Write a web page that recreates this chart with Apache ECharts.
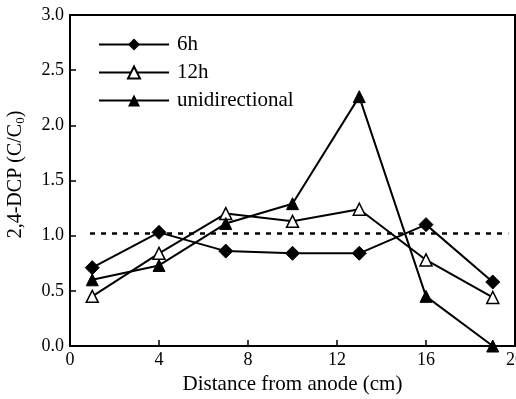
<!DOCTYPE html>
<html>
<head>
<meta charset="utf-8">
<script src="https://cdn.jsdelivr.net/npm/echarts@6/dist/echarts.min.js"></script>
<style>
html,body{margin:0;padding:0;background:#fff;}
#main{width:516px;height:399px;}
</style>
</head>
<body>
<div id="main"></div>
<script>
// distance from anode (cm)
var distance = [1, 4, 7, 10, 13, 16, 19];
var h6 = [0.71, 1.03, 0.86, 0.84, 0.84, 1.10, 0.58];
var h12 = [0.45, 0.84, 1.20, 1.13, 1.24, 0.78, 0.44];
var unidirectional = [0.60, 0.73, 1.11, 1.29, 2.26, 0.45, 0.00];
var refLevel = 1.02;
var refRange = [0.9, 19.7];
var xTicks = [0, 4, 8, 12, 16, 20];
var yTicks = [0, 0.5, 1.0, 1.5, 2.0, 2.5, 3.0];

function pairs(xs, ys){
	var out = [];
	for (var i = 0; i < xs.length; i++) out.push([xs[i], ys[i]]);
	return out;
}

var font = 'Liberation Serif';
var myChart = echarts.init(document.getElementById('main'));
var option = {
	animation: false,
	textStyle: {fontFamily: font, color: '#000'},
	grid: {
		left: 70, right: 1, top: 15, bottom: 53,
		outerBoundsMode: 'none', containLabel: false,
		show: true, borderColor: '#000', borderWidth: 2
	},
	legend: {
		data: ['6h', '12h', 'unidirectional'],
		orient: 'vertical',
		left: 93, top: 29,
		itemWidth: 70, itemHeight: 15, itemGap: 7,
		lineStyle: {width: 2},
		textStyle: {fontFamily: font, fontSize: 21, color: '#000', padding: [0, 0, 0, 3]}
	},
	xAxis: {
		type: 'value', min: 0, max: 20, interval: 4,
		name: 'Distance from anode (cm)',
		nameLocation: 'middle', nameGap: 22,
		nameTextStyle: {fontFamily: font, fontSize: 21, color: '#000'},
		axisLine: {lineStyle: {color: '#000', width: 2}},
		axisTick: {inside: true, length: 6, lineStyle: {color: '#000', width: 1.5}},
		axisLabel: {fontFamily: font, fontSize: 18, color: '#000', margin: 5,
			formatter: function(v){ return xTicks.indexOf(v) >= 0 ? v : ''; }},
		splitLine: {show: false}
	},
	yAxis: {
		type: 'value', min: 0, max: 3, interval: 0.5,
		name: '2,4-DCP (C/C{sub|0})',
		nameLocation: 'middle', nameGap: 43,
		nameTextStyle: {fontFamily: font, fontSize: 20, color: '#000', padding: [0, 0, 0, 12],
			rich: {sub: {fontFamily: font, fontSize: 13, color: '#000', verticalAlign: 'bottom', padding: [10, 0, 0, 0]}}},
		axisLine: {lineStyle: {color: '#000', width: 2}},
		axisTick: {inside: true, length: 6, lineStyle: {color: '#000', width: 1.5}},
		axisLabel: {fontFamily: font, fontSize: 18, color: '#000', margin: 6,
			formatter: function(v){ return v.toFixed(1); }},
		splitLine: {show: false}
	},
	series: [
		{
			name: '6h', type: 'line', data: pairs(distance, h6),
			symbol: 'diamond', symbolSize: 14,
			lineStyle: {color: '#000', width: 2},
			itemStyle: {color: '#000', borderColor: '#000'}
		},
		{
			name: '12h', type: 'line', data: pairs(distance, h12),
			symbol: 'triangle', symbolSize: 12,
			lineStyle: {color: '#000', width: 2},
			itemStyle: {color: '#fff', borderColor: '#000', borderWidth: 1.5}
		},
		{
			name: 'unidirectional', type: 'line', data: pairs(distance, unidirectional),
			symbol: 'triangle', symbolSize: 12,
			lineStyle: {color: '#000', width: 2},
			itemStyle: {color: '#000', borderColor: '#000'}
		},
		{
			name: 'reference', type: 'line',
			data: [[refRange[0], refLevel], [refRange[1], refLevel]],
			symbol: 'none', z: 1,
			lineStyle: {color: '#000', width: 2.5, type: [5, 6]}
		}
	]
};
myChart.setOption(option);
</script>
</body>
</html>
